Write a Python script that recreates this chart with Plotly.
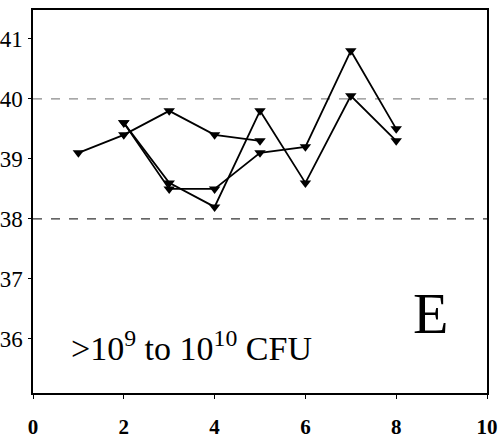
import plotly.graph_objects as go

# Data
series_a_days = [1, 2, 3, 4, 5]
series_a = [39.1, 39.4, 39.8, 39.4, 39.3]
series_bc_days = [2, 3, 4, 5, 6, 7, 8]
series_b = [39.6, 38.5, 38.5, 39.1, 39.2, 40.8, 39.5]
series_c = [39.6, 38.6, 38.2, 39.8, 38.6, 40.05, 39.3]
x_ticks = [0, 2, 4, 6, 8, 10]
y_ticks = [36, 37, 38, 39, 40, 41]
ref_lines = [40, 38]
ref_colors = ["#8a8a8a", "#333333"]
label_text = ">10<sup>9</sup> to 10<sup>10</sup> CFU"
panel_letter = "E"

SERIF = "Liberation Serif"

fig = go.Figure()

for yv, col in zip(ref_lines, ref_colors):
    fig.add_shape(type="line", xref="paper", x0=0, x1=1, yref="y", y0=yv, y1=yv,
                  line=dict(color=col, width=1.2, dash="dash"), layer="below")

for xs, ys in [(series_a_days, series_a), (series_bc_days, series_b), (series_bc_days, series_c)]:
    fig.add_trace(go.Scatter(
        x=xs, y=ys, mode="lines+markers",
        line=dict(color="black", width=1.8),
        marker=dict(symbol="triangle-down", size=10, color="black"),
        showlegend=False,
    ))

fig.add_annotation(x=0.8, y=35.5, xref="x", yref="y", text=label_text,
                   showarrow=False, xanchor="left", yanchor="bottom",
                   font=dict(family=SERIF, size=34, color="black"))
fig.add_annotation(x=8.75, y=36.43, xref="x", yref="y", text=panel_letter,
                   showarrow=False, xanchor="center", yanchor="middle",
                   font=dict(family=SERIF, size=58, color="black"))

fig.update_layout(
    width=500, height=444,
    margin=dict(l=33, r=13, t=10, b=51),
    paper_bgcolor="white", plot_bgcolor="white",
    showlegend=False,
    xaxis=dict(range=[0, 10], tickvals=x_ticks, ticks="outside", ticklen=4,
               tickcolor="black", showline=True, linecolor="black", linewidth=1.5,
               mirror=True, showgrid=False, zeroline=False, automargin=False,
               ticklabelstandoff=10,
               tickfont=dict(family=SERIF, size=21, color="black", weight="bold")),
    yaxis=dict(range=[35.1, 41.48], tickvals=y_ticks, ticks="outside", ticklen=3,
               tickcolor="black", showline=True, linecolor="black", linewidth=1.5,
               mirror=True, showgrid=False, zeroline=False, automargin=False,
               ticklabelstandoff=1,
               tickfont=dict(family=SERIF, size=23, color="black")),
)

fig.write_html("out.html")
